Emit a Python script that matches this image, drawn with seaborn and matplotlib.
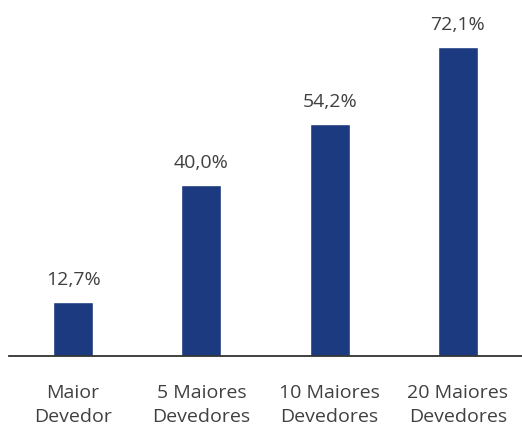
import matplotlib
matplotlib.use("Agg")
import matplotlib.pyplot as plt
import seaborn as sns
import pandas as pd

# Concentration of the largest debtors
categories = ["Maior\nDevedor", "5 Maiores\nDevedores", "10 Maiores\nDevedores", "20 Maiores\nDevedores"]
values = [12.7, 40.0, 54.2, 72.1]
bar_color = "#1B3A80"
text_color = "#404040"

df = pd.DataFrame({"cat": categories, "val": values})

sns.set_theme(style="white")
plt.rcParams["font.family"] = ["Open Sans", "DejaVu Sans"]

fig = plt.figure(figsize=(5.22, 4.26), dpi=100)
ax = fig.add_axes([9 / 522, 70 / 426, 513 / 522, 345 / 426])

sns.barplot(data=df, x="cat", y="val", color=bar_color, width=0.31,
            saturation=1, ax=ax)

for i, v in enumerate(values):
    ax.text(i, v + 3.0, f"{v:.1f}".replace(".", ",") + "%", ha="center",
            va="bottom", fontsize=14, color=text_color)

ax.set_ylim(0, 80.5)
ax.set_xlim(-0.5, 3.5)
ax.set_xlabel("")
ax.set_ylabel("")
ax.set_yticks([])
ax.tick_params(axis="x", length=0, pad=20, labelsize=14, labelcolor=text_color)
for lbl in ax.get_xticklabels():
    lbl.set_linespacing(1.48)

for s in ["top", "right", "left"]:
    ax.spines[s].set_visible(False)
ax.spines["bottom"].set_color("#333333")
ax.spines["bottom"].set_linewidth(1.3)

fig.savefig("out.png", dpi=100)
